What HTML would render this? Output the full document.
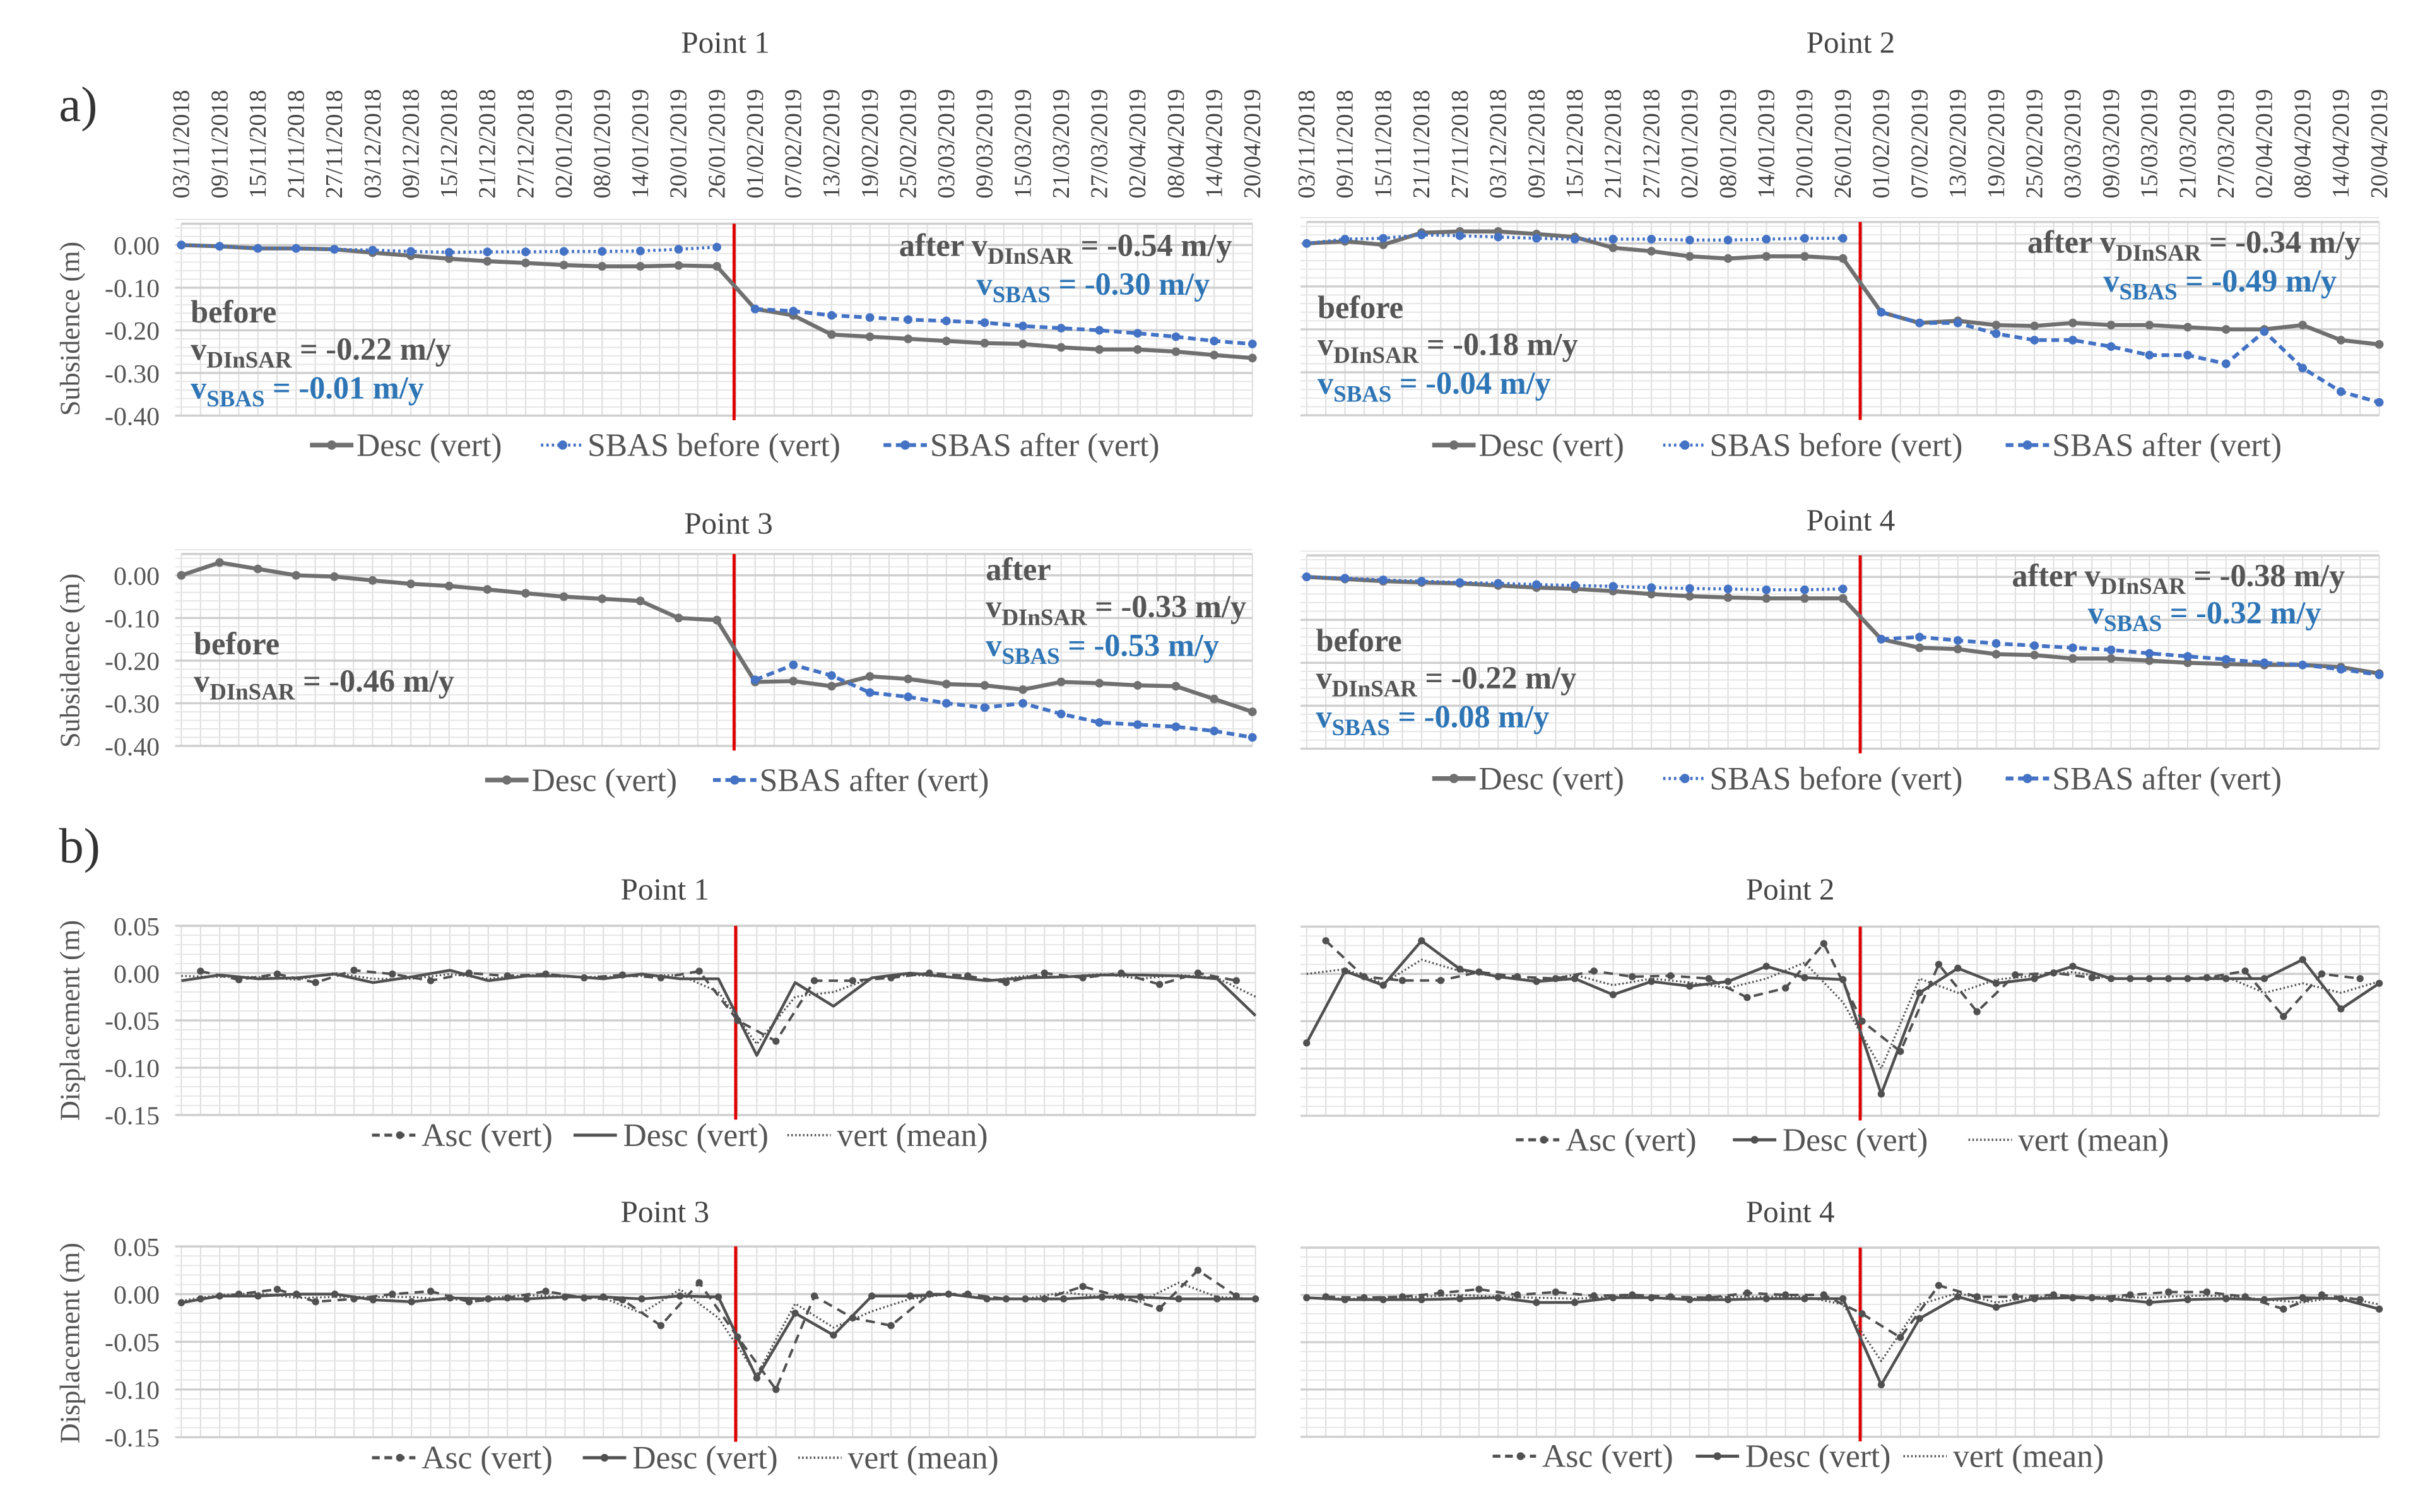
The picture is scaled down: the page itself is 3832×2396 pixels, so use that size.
<!DOCTYPE html>
<html><head><meta charset="utf-8"><style>
html,body{margin:0;padding:0;background:#fff;}
svg{display:block;}
text{font-family:"Liberation Serif",serif;}
</style></head><body>
<svg id="fig" width="3832" height="2396" viewBox="0 0 1560 975" preserveAspectRatio="none" xmlns="http://www.w3.org/2000/svg">
<rect x="0" y="0" width="1560" height="975" fill="#fff"/>
<g id="grids"></g>
<g id="marks"></g>
<g fill="#333" font-size="32">
<text x="38" y="78">a)</text>
<text x="38" y="556">b)</text>
</g>
<g fill="#444" font-size="20" text-anchor="middle">
<text x="468" y="34">Point 1</text>
<text x="1194" y="34">Point 2</text>
<text x="470" y="344">Point 3</text>
<text x="1194" y="342">Point 4</text>
<text x="429" y="580">Point 1</text>
<text x="1155" y="580">Point 2</text>
<text x="429" y="788">Point 3</text>
<text x="1155" y="788">Point 4</text>
</g>
<g fill="#555" font-size="18" text-anchor="middle">
<text transform="translate(51,212) rotate(-90)">Subsidence (m)</text>
<text transform="translate(51,426) rotate(-90)">Subsidence (m)</text>
<text transform="translate(51,658) rotate(-90)">Displacement (m)</text>
<text transform="translate(51,866) rotate(-90)">Displacement (m)</text>
</g>
<g font-size="20.5" font-weight="bold">
<g>
<text x="580" y="165" fill="#555">after  v<tspan dy="5" font-size="15">DInSAR</tspan><tspan dy="-5"> = -0.54 m/y</tspan></text>
<text x="630" y="190" fill="#2E75B6">v<tspan dy="5" font-size="15">SBAS</tspan><tspan dy="-5">    = -0.30 m/y</tspan></text>
<text x="123" y="208" fill="#555">before</text>
<text x="123" y="232" fill="#555">v<tspan dy="5" font-size="15">DInSAR</tspan><tspan dy="-5"> = -0.22 m/y</tspan></text>
<text x="123" y="257" fill="#2E75B6">v<tspan dy="5" font-size="15">SBAS</tspan><tspan dy="-5">    = -0.01 m/y</tspan></text>
</g>
<g>
<text x="1308" y="163" fill="#555">after  v<tspan dy="5" font-size="15">DInSAR</tspan><tspan dy="-5"> = -0.34 m/y</tspan></text>
<text x="1357" y="188" fill="#2E75B6">v<tspan dy="5" font-size="15">SBAS</tspan><tspan dy="-5">    = -0.49 m/y</tspan></text>
<text x="850" y="205" fill="#555">before</text>
<text x="850" y="229" fill="#555">v<tspan dy="5" font-size="15">DInSAR</tspan><tspan dy="-5"> = -0.18 m/y</tspan></text>
<text x="850" y="254" fill="#2E75B6">v<tspan dy="5" font-size="15">SBAS</tspan><tspan dy="-5">    = -0.04 m/y</tspan></text>
</g>
<g>
<text x="636" y="374" fill="#555">after</text>
<text x="636" y="398" fill="#555">v<tspan dy="5" font-size="15">DInSAR</tspan><tspan dy="-5"> = -0.33 m/y</tspan></text>
<text x="636" y="423" fill="#2E75B6">v<tspan dy="5" font-size="15">SBAS</tspan><tspan dy="-5">    = -0.53 m/y</tspan></text>
<text x="125" y="422" fill="#555">before</text>
<text x="125" y="446" fill="#555">v<tspan dy="5" font-size="15">DInSAR</tspan><tspan dy="-5"> = -0.46 m/y</tspan></text>
</g>
<g>
<text x="1298" y="378" fill="#555">after  v<tspan dy="5" font-size="15">DInSAR</tspan><tspan dy="-5"> = -0.38 m/y</tspan></text>
<text x="1347" y="402" fill="#2E75B6">v<tspan dy="5" font-size="15">SBAS</tspan><tspan dy="-5">    = -0.32 m/y</tspan></text>
<text x="849" y="420" fill="#555">before</text>
<text x="849" y="444" fill="#555">v<tspan dy="5" font-size="15">DInSAR</tspan><tspan dy="-5"> = -0.22 m/y</tspan></text>
<text x="849" y="469" fill="#2E75B6">v<tspan dy="5" font-size="15">SBAS</tspan><tspan dy="-5">    = -0.08 m/y</tspan></text>
</g>
</g>
<g font-size="21" fill="#555">
<g>
<line x1="200" y1="287" x2="228" y2="287" stroke="#707070" stroke-width="3"/><circle cx="214" cy="287" r="3" fill="#707070"/><text x="230" y="294">Desc (vert)</text>
<line x1="349" y1="287" x2="377" y2="287" stroke="#4472C4" stroke-width="2" stroke-dasharray="1.5,2"/><circle cx="363" cy="287" r="3" fill="#4472C4"/><text x="379" y="294">SBAS before (vert)</text>
<line x1="570" y1="287" x2="598" y2="287" stroke="#4472C4" stroke-width="2.5" stroke-dasharray="5,3"/><circle cx="584" cy="287" r="3" fill="#4472C4"/><text x="600" y="294">SBAS after (vert)</text>
</g>
<g>
<line x1="924" y1="287" x2="952" y2="287" stroke="#707070" stroke-width="3"/><circle cx="938" cy="287" r="3" fill="#707070"/><text x="954" y="294">Desc (vert)</text>
<line x1="1073" y1="287" x2="1101" y2="287" stroke="#4472C4" stroke-width="2" stroke-dasharray="1.5,2"/><circle cx="1087" cy="287" r="3" fill="#4472C4"/><text x="1103" y="294">SBAS before (vert)</text>
<line x1="1294" y1="287" x2="1322" y2="287" stroke="#4472C4" stroke-width="2.5" stroke-dasharray="5,3"/><circle cx="1308" cy="287" r="3" fill="#4472C4"/><text x="1324" y="294">SBAS after (vert)</text>
</g>
<g>
<line x1="313" y1="503" x2="341" y2="503" stroke="#707070" stroke-width="3"/><circle cx="327" cy="503" r="3" fill="#707070"/><text x="343" y="510">Desc (vert)</text>
<line x1="460" y1="503" x2="488" y2="503" stroke="#4472C4" stroke-width="2.5" stroke-dasharray="5,3"/><circle cx="474" cy="503" r="3" fill="#4472C4"/><text x="490" y="510">SBAS after (vert)</text>
</g>
<g>
<line x1="924" y1="502" x2="952" y2="502" stroke="#707070" stroke-width="3"/><circle cx="938" cy="502" r="3" fill="#707070"/><text x="954" y="509">Desc (vert)</text>
<line x1="1073" y1="502" x2="1101" y2="502" stroke="#4472C4" stroke-width="2" stroke-dasharray="1.5,2"/><circle cx="1087" cy="502" r="3" fill="#4472C4"/><text x="1103" y="509">SBAS before (vert)</text>
<line x1="1294" y1="502" x2="1322" y2="502" stroke="#4472C4" stroke-width="2.5" stroke-dasharray="5,3"/><circle cx="1308" cy="502" r="3" fill="#4472C4"/><text x="1324" y="509">SBAS after (vert)</text>
</g>
<g>
<line x1="240" y1="732" x2="268" y2="732" stroke="#505050" stroke-width="2" stroke-dasharray="5,3"/><circle cx="258" cy="732" r="2.5" fill="#505050"/><text x="272" y="739">Asc (vert)</text>
<line x1="370" y1="732" x2="398" y2="732" stroke="#505050" stroke-width="2"/><text x="402" y="739">Desc (vert)</text>
<line x1="508" y1="732" x2="536" y2="732" stroke="#505050" stroke-width="1.5" stroke-dasharray="1,1.5"/><text x="540" y="739">vert (mean)</text>
</g>
<g>
<line x1="978" y1="735" x2="1006" y2="735" stroke="#505050" stroke-width="2" stroke-dasharray="5,3"/><circle cx="996" cy="735" r="2.5" fill="#505050"/><text x="1010" y="742">Asc (vert)</text>
<line x1="1118" y1="735" x2="1146" y2="735" stroke="#505050" stroke-width="2"/><circle cx="1132" cy="735" r="2.5" fill="#505050"/><text x="1150" y="742">Desc (vert)</text>
<line x1="1270" y1="735" x2="1298" y2="735" stroke="#505050" stroke-width="1.5" stroke-dasharray="1,1.5"/><text x="1302" y="742">vert (mean)</text>
</g>
<g>
<line x1="240" y1="940" x2="268" y2="940" stroke="#505050" stroke-width="2" stroke-dasharray="5,3"/><circle cx="258" cy="940" r="2.5" fill="#505050"/><text x="272" y="947">Asc (vert)</text>
<line x1="376" y1="940" x2="404" y2="940" stroke="#505050" stroke-width="2"/><circle cx="390" cy="940" r="2.5" fill="#505050"/><text x="408" y="947">Desc (vert)</text>
<line x1="515" y1="940" x2="543" y2="940" stroke="#505050" stroke-width="1.5" stroke-dasharray="1,1.5"/><text x="547" y="947">vert (mean)</text>
</g>
<g>
<line x1="963" y1="939" x2="991" y2="939" stroke="#505050" stroke-width="2" stroke-dasharray="5,3"/><circle cx="981" cy="939" r="2.5" fill="#505050"/><text x="995" y="946">Asc (vert)</text>
<line x1="1094" y1="939" x2="1122" y2="939" stroke="#505050" stroke-width="2"/><circle cx="1108" cy="939" r="2.5" fill="#505050"/><text x="1126" y="946">Desc (vert)</text>
<line x1="1228" y1="939" x2="1256" y2="939" stroke="#505050" stroke-width="1.5" stroke-dasharray="1,1.5"/><text x="1260" y="946">vert (mean)</text>
</g>
</g>
</svg>
<script>
const dates = ["03/11/2018","09/11/2018","15/11/2018","21/11/2018","27/11/2018","03/12/2018","09/12/2018","15/12/2018","21/12/2018","27/12/2018","02/01/2019","08/01/2019","14/01/2019","20/01/2019","26/01/2019","01/02/2019","07/02/2019","13/02/2019","19/02/2019","25/02/2019","03/03/2019","09/03/2019","15/03/2019","21/03/2019","27/03/2019","02/04/2019","08/04/2019","14/04/2019","20/04/2019"];
const aTickVals = [0.00,-0.10,-0.20,-0.30,-0.40];
const aTickLabels = ["0.00","-0.10","-0.20","-0.30","-0.40"];
const bTickVals = [0.05,0.00,-0.05,-0.10,-0.15];
const bTickLabels = ["0.05","0.00","-0.05","-0.10","-0.15"];
const eventIndex = 14.45;

const p1Desc = [0,-0.003,-0.008,-0.008,-0.010,-0.018,-0.025,-0.032,-0.038,-0.042,-0.047,-0.050,-0.050,-0.048,-0.050,-0.150,-0.165,-0.210,-0.215,-0.220,-0.225,-0.230,-0.232,-0.240,-0.245,-0.245,-0.250,-0.258,-0.265];
const p1SbasBefore = [0,-0.003,-0.008,-0.008,-0.010,-0.012,-0.015,-0.017,-0.016,-0.016,-0.015,-0.015,-0.014,-0.010,-0.005];
const p1SbasAfter = [-0.150,-0.155,-0.165,-0.170,-0.175,-0.178,-0.182,-0.190,-0.195,-0.200,-0.207,-0.215,-0.225,-0.232];

const p2Desc = [0,0.005,-0.003,0.025,0.028,0.028,0.022,0.015,-0.010,-0.018,-0.030,-0.035,-0.030,-0.030,-0.035,-0.160,-0.185,-0.180,-0.190,-0.192,-0.185,-0.190,-0.190,-0.195,-0.200,-0.200,-0.190,-0.225,-0.235];
const p2SbasBefore = [0,0.010,0.012,0.020,0.018,0.015,0.012,0.010,0.010,0.010,0.008,0.008,0.010,0.012,0.012];
const p2SbasAfter = [-0.160,-0.185,-0.185,-0.210,-0.225,-0.225,-0.240,-0.260,-0.260,-0.280,-0.205,-0.290,-0.345,-0.370];

const p3Desc = [0,0.030,0.015,0.000,-0.003,-0.012,-0.020,-0.025,-0.033,-0.042,-0.050,-0.055,-0.060,-0.100,-0.105,-0.250,-0.248,-0.260,-0.237,-0.243,-0.255,-0.258,-0.268,-0.250,-0.253,-0.258,-0.260,-0.290,-0.320];
const p3SbasAfter = [-0.245,-0.210,-0.235,-0.275,-0.285,-0.300,-0.310,-0.300,-0.325,-0.345,-0.350,-0.355,-0.365,-0.380];

const p4Desc = [0,-0.005,-0.010,-0.013,-0.015,-0.020,-0.025,-0.028,-0.033,-0.040,-0.045,-0.048,-0.050,-0.050,-0.050,-0.145,-0.165,-0.168,-0.180,-0.182,-0.190,-0.190,-0.195,-0.200,-0.203,-0.205,-0.205,-0.210,-0.225];
const p4SbasBefore = [0,-0.003,-0.007,-0.010,-0.013,-0.015,-0.018,-0.020,-0.022,-0.025,-0.027,-0.028,-0.030,-0.030,-0.028];
const p4SbasAfter = [-0.145,-0.140,-0.148,-0.155,-0.160,-0.165,-0.170,-0.178,-0.185,-0.192,-0.200,-0.205,-0.215,-0.228];

const b1Desc = [-0.008,-0.002,-0.006,-0.005,-0.001,-0.010,-0.004,0.003,-0.008,-0.003,-0.003,-0.006,-0.001,-0.006,-0.006,-0.087,-0.010,-0.035,-0.005,0.000,-0.004,-0.008,-0.005,-0.004,-0.002,-0.002,-0.003,-0.006,-0.045];
const b1Asc = [0.002,-0.007,-0.001,-0.010,0.003,-0.001,-0.008,0.000,-0.003,-0.001,-0.005,-0.002,-0.005,0.002,-0.050,-0.072,-0.008,-0.008,-0.005,0.000,-0.003,-0.010,0.000,-0.005,0.000,-0.012,0.000,-0.008];
const b1Mean = [-0.003,-0.004,-0.004,-0.007,0.000,-0.006,-0.006,-0.001,-0.006,-0.002,-0.004,-0.004,-0.003,-0.002,-0.020,-0.075,-0.025,-0.020,-0.005,-0.002,-0.004,-0.008,-0.003,-0.004,-0.001,-0.006,-0.002,-0.005,-0.025];

const b2Desc = [-0.073,0.003,-0.012,0.035,0.005,-0.003,-0.008,-0.005,-0.022,-0.008,-0.013,-0.008,0.008,-0.004,-0.006,-0.127,-0.020,0.006,-0.010,-0.005,0.008,-0.005,-0.005,-0.005,-0.005,-0.005,0.015,-0.037,-0.010];
const b2Asc = [0.035,-0.003,-0.007,-0.007,0.002,-0.003,-0.005,0.003,-0.003,-0.002,-0.005,-0.025,-0.015,0.032,-0.050,-0.082,0.010,-0.040,-0.001,0.001,-0.004,-0.005,-0.005,-0.004,0.003,-0.045,0.000,-0.005];
const b2Mean = [0.000,0.005,-0.010,0.015,0.003,-0.003,-0.007,-0.001,-0.012,-0.005,-0.009,-0.015,-0.005,0.012,-0.030,-0.100,-0.005,-0.020,-0.006,-0.002,0.002,-0.005,-0.005,-0.005,-0.003,-0.020,-0.010,-0.020,-0.008];

const b3Desc = [-0.009,-0.002,-0.002,0.000,0.000,-0.006,-0.008,-0.004,-0.005,-0.005,-0.003,-0.003,-0.005,-0.002,-0.003,-0.088,-0.020,-0.043,-0.002,-0.002,0.000,-0.005,-0.005,-0.005,-0.003,-0.003,-0.005,-0.005,-0.005];
const b3Asc = [-0.005,0.000,0.005,-0.008,-0.005,0.000,0.003,-0.008,-0.004,0.003,-0.004,-0.006,-0.033,0.012,-0.045,-0.100,-0.002,-0.025,-0.033,0.000,0.000,-0.005,-0.005,0.008,-0.003,-0.015,0.025,-0.002];
const b3Mean = [-0.007,-0.001,0.001,-0.004,-0.003,-0.003,-0.003,-0.006,-0.004,-0.001,-0.003,-0.004,-0.020,0.005,-0.025,-0.085,-0.010,-0.035,-0.018,-0.005,0.000,-0.005,-0.005,0.002,-0.003,-0.008,0.012,-0.003,-0.005];

const b4Desc = [-0.003,-0.005,-0.005,-0.005,-0.004,-0.003,-0.008,-0.008,-0.003,-0.003,-0.005,-0.005,-0.004,-0.004,-0.004,-0.095,-0.025,-0.002,-0.013,-0.004,-0.003,-0.004,-0.008,-0.005,-0.004,-0.005,-0.003,-0.004,-0.015];
const b4Asc = [-0.002,-0.003,-0.002,0.002,0.006,0.000,0.003,-0.001,0.000,-0.002,-0.003,0.002,0.000,0.000,-0.020,-0.045,0.010,-0.002,-0.002,0.000,-0.003,0.000,0.003,0.003,-0.002,-0.015,0.000,-0.005];
const b4Mean = [-0.003,-0.004,-0.004,-0.002,0.000,-0.002,-0.003,-0.004,-0.002,-0.003,-0.004,-0.002,-0.002,-0.002,-0.010,-0.070,-0.010,0.002,-0.008,-0.002,-0.003,-0.002,-0.003,-0.001,-0.001,-0.005,-0.008,-0.002,-0.010];

const NS = "http://www.w3.org/2000/svg";
const gridG = document.getElementById('grids');
const markG = document.getElementById('marks');
function mk(tag, attrs, parent){
  const el = document.createElementNS(NS, tag);
  for (const k in attrs) el.setAttribute(k, attrs[k]);
  parent.appendChild(el);
  return el;
}

const GRAY = "#707070", BLUE = "#4472C4", DARK = "#505050";

function makeChart(cfg){
  const xOf = j => cfg.x0 + j*(cfg.x1-cfg.x0)/56;
  const yOf = v => cfg.y0 - v*cfg.k;
  const yTop = yOf(cfg.ymax), yBot = yOf(cfg.ymin);
  cfg.xOf = xOf; cfg.yOf = yOf;
  for (let j=0;j<=56;j++){
    const l = mk('line',{x1:xOf(j),x2:xOf(j),y1:yTop,y2:yBot,stroke:'#dcdcdc','stroke-width':0.8},gridG);
    
    
  }
  const nMinor = Math.round((cfg.ymax-cfg.ymin)/cfg.minor);
  for (let i=0;i<=nMinor;i++){
    const v = cfg.ymin + i*cfg.minor;
    const l = mk('line',{x1:cfg.x0-4,x2:cfg.x1,y1:yOf(v),y2:yOf(v),stroke:'#e6e6e6','stroke-width':0.8},gridG);
    
    
  }
  cfg.ticks.forEach((v,i)=>{
    const l = mk('line',{x1:cfg.x0-4,x2:cfg.x1,y1:yOf(v),y2:yOf(v),stroke:'#cfcfcf','stroke-width':1.4},gridG);
    
    
    if (cfg.showLabels){
      const t = mk('text',{x:cfg.x0-14,y:yOf(v)+6,'text-anchor':'end','font-size':17,fill:'#555'},gridG);
      t.textContent = cfg.tickLabels[i];
      
      
    }
  });
  const top = mk('line',{x1:cfg.x0,x2:cfg.x1,y1:yTop,y2:yTop,stroke:'#d0d0d0','stroke-width':1.5},gridG);
  
  
  const ex = xOf(eventIndex*2);
  const red = mk('line',{x1:ex,x2:ex,y1:yTop,y2:yBot+3,stroke:'#E00000','stroke-width':2},markG);
  
  
  return cfg;
}

function drawSeries(cfg, vals, startJ, stepJ, style, name){
  const pts = vals.map((v,i)=>[cfg.xOf(startJ+i*stepJ), cfg.yOf(v)]);
  const p = mk('polyline',{points:pts.map(q=>q.join(',')).join(' '),fill:'none',stroke:style.color,'stroke-width':style.w,'stroke-dasharray':style.dash||'none','stroke-linejoin':'round'},markG);
  
  
  if (style.r){
    pts.forEach(q=>{
      const m = mk('circle',{cx:q[0],cy:q[1],r:style.r,fill:style.color},markG);
      
      
    });
  }
}

function drawDates(cfg, name){
  dates.forEach((d,i)=>{
    const x = cfg.xOf(i*2)+5;
    const t = mk('text',{x:x,y:128,transform:`rotate(-90 ${x} 128)`,'font-size':15.5,fill:'#444'},gridG);
    t.textContent = d;
    
    
  });
}

const sDesc = {color:GRAY,w:2.6,r:2.8};
const sBefore = {color:BLUE,w:2,dash:'1.5,2',r:2.8};
const sAfter = {color:BLUE,w:2.4,dash:'5,3',r:2.8};
const bAsc = {color:DARK,w:1.6,dash:'6,4',r:2.3};
const bDesc = {color:DARK,w:1.8,r:2.3};
const bDescNoMark = {color:DARK,w:1.8};
const bMean = {color:DARK,w:1.3,dash:'1,1.5'};

const a1 = makeChart({name:'chart-a1',x0:117,x1:808,y0:158,k:275,ymax:0.05,ymin:-0.40,minor:0.02,ticks:aTickVals,tickLabels:aTickLabels,showLabels:true});
const a2 = makeChart({name:'chart-a2',x0:843,x1:1535,y0:157,k:277,ymax:0.05,ymin:-0.40,minor:0.02,ticks:aTickVals,tickLabels:aTickLabels,showLabels:false});
const a3 = makeChart({name:'chart-a3',x0:117,x1:808,y0:371,k:275,ymax:0.05,ymin:-0.40,minor:0.02,ticks:aTickVals,tickLabels:aTickLabels,showLabels:true});
const a4 = makeChart({name:'chart-a4',x0:843,x1:1535,y0:372,k:277,ymax:0.05,ymin:-0.40,minor:0.02,ticks:aTickVals,tickLabels:aTickLabels,showLabels:false});
drawDates(a1,'chart-a1');
drawDates(a2,'chart-a2');

drawSeries(a1,p1Desc,0,2,sDesc,'a1-desc');
drawSeries(a1,p1SbasBefore,0,2,sBefore,'a1-sbas-before');
drawSeries(a1,p1SbasAfter,30,2,sAfter,'a1-sbas-after');
drawSeries(a2,p2Desc,0,2,sDesc,'a2-desc');
drawSeries(a2,p2SbasBefore,0,2,sBefore,'a2-sbas-before');
drawSeries(a2,p2SbasAfter,30,2,sAfter,'a2-sbas-after');
drawSeries(a3,p3Desc,0,2,sDesc,'a3-desc');
drawSeries(a3,p3SbasAfter,30,2,sAfter,'a3-sbas-after');
drawSeries(a4,p4Desc,0,2,sDesc,'a4-desc');
drawSeries(a4,p4SbasBefore,0,2,sBefore,'a4-sbas-before');
drawSeries(a4,p4SbasAfter,30,2,sAfter,'a4-sbas-after');

const b1 = makeChart({name:'chart-b1',x0:117,x1:810,y0:627.5,k:610,ymax:0.05,ymin:-0.15,minor:0.01,ticks:bTickVals,tickLabels:bTickLabels,showLabels:true});
const b2 = makeChart({name:'chart-b2',x0:843,x1:1535,y0:628,k:610,ymax:0.05,ymin:-0.15,minor:0.01,ticks:bTickVals,tickLabels:bTickLabels,showLabels:false});
const b3 = makeChart({name:'chart-b3',x0:117,x1:810,y0:834.5,k:615,ymax:0.05,ymin:-0.15,minor:0.01,ticks:bTickVals,tickLabels:bTickLabels,showLabels:true});
const b4 = makeChart({name:'chart-b4',x0:843,x1:1535,y0:835,k:610,ymax:0.05,ymin:-0.15,minor:0.01,ticks:bTickVals,tickLabels:bTickLabels,showLabels:false});

drawSeries(b1,b1Mean,0,2,bMean,'b1-mean');
drawSeries(b1,b1Asc,1,2,bAsc,'b1-asc');
drawSeries(b1,b1Desc,0,2,bDescNoMark,'b1-desc');
drawSeries(b2,b2Mean,0,2,bMean,'b2-mean');
drawSeries(b2,b2Asc,1,2,bAsc,'b2-asc');
drawSeries(b2,b2Desc,0,2,bDesc,'b2-desc');
drawSeries(b3,b3Mean,0,2,bMean,'b3-mean');
drawSeries(b3,b3Asc,1,2,bAsc,'b3-asc');
drawSeries(b3,b3Desc,0,2,bDesc,'b3-desc');
drawSeries(b4,b4Mean,0,2,bMean,'b4-mean');
drawSeries(b4,b4Asc,1,2,bAsc,'b4-asc');
drawSeries(b4,b4Desc,0,2,bDesc,'b4-desc');
</script>
</body></html>
